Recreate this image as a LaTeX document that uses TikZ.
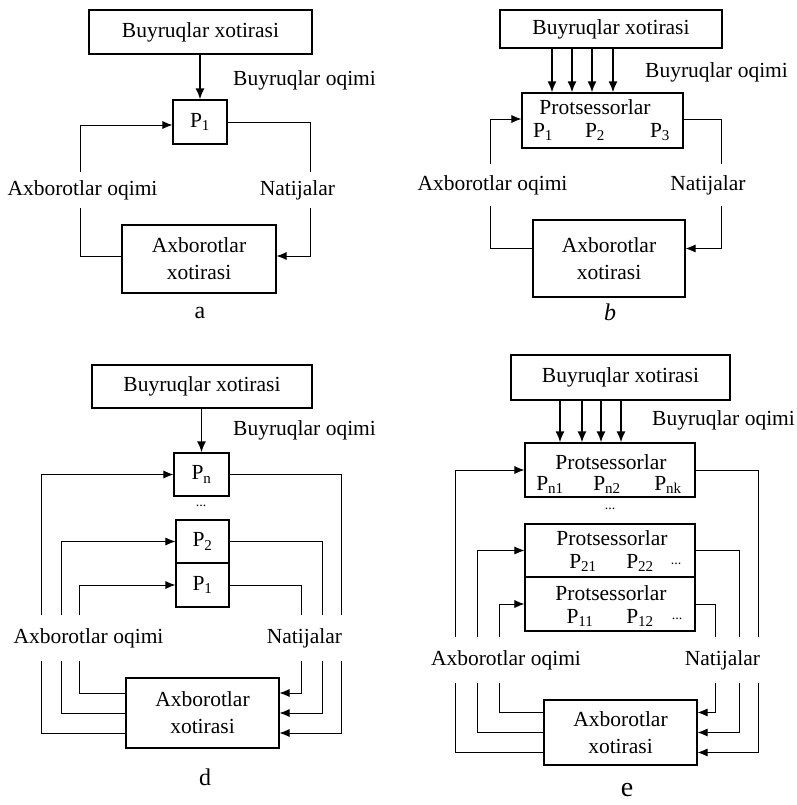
\documentclass[tikz,border=0pt]{standalone}
\usepackage{fontspec}
\setmainfont{Liberation Serif}
\usetikzlibrary{arrows.meta}
\tikzset{
  blok/.style={draw, line width=1.1pt, inner sep=0pt},
  oqim/.style={line width=1.9pt, -{Latex[length=11pt,width=9pt]}},
  aloqa/.style={line width=0.9pt},
  uchi/.style={-{Latex[length=10pt,width=8pt]}},
  uzilish/.style={inner xsep=0pt, inner ysep=#1},
  nuqta/.style={font=\fontsize{14}{14}\selectfont},
  harf/.style={font=\fontsize{24}{24}\selectfont}
}
\begin{document}
\begin{tikzpicture}[x=1pt, y=-1pt, font=\fontsize{21.5}{27}\selectfont, inner sep=0pt]
\useasboundingbox (0,0) rectangle (796,805);

% a
\node[blok, minimum width=223pt, minimum height=44pt] (bxa) at (200.5,32) {Buyruqlar xotirasi};
\node[blok, minimum width=54pt, minimum height=44pt] (pa) at (200,122) {P\textsubscript{1}};
\node[blok, minimum width=154pt, minimum height=68pt, align=center] (ma) at (199,259) {Axborotlar\\xotirasi};
\node[anchor=west] (boa) at (233,80) {Buyruqlar oqimi};
\node[uzilish=8.5pt] (aoa) at (82.5,190) {Axborotlar oqimi};
\node[uzilish=8.5pt] (na) at (297.5,190) {Natijalar};
\node[harf] (ha) at (200,313) {a};
\draw[oqim] (bxa.south -| pa.north) -- (pa.north);
\draw[aloqa] ([yshift=3pt]ma.west) -| (aoa.south -| 80,0);
\draw[aloqa, uchi] (aoa.north -| 80,0) |- ([yshift=-3pt]pa.west);
\draw[aloqa] (pa.east) -| (na.north -| 310,0);
\draw[aloqa, uchi] (na.south -| 310,0) |- ([yshift=3pt]ma.east);

% b
\node[blok, minimum width=222pt, minimum height=38pt] (bxb) at (611,29) {Buyruqlar xotirasi};
\node[blok, minimum width=161pt, minimum height=55pt] (prb) at (602.5,120.5) {};
\node (tprb) at (595,107) {Protsessorlar};
\node (pb1) at (543,132) {P\textsubscript{1}};
\node (pb2) at (595,132) {P\textsubscript{2}};
\node (pb3) at (660,132) {P\textsubscript{3}};
\node[blok, minimum width=152pt, minimum height=77pt, align=center] (mb) at (609,258.5) {Axborotlar\\xotirasi};
\node[anchor=west] (bob) at (645,72) {Buyruqlar oqimi};
\node[uzilish=11pt] (aob) at (492.5,185) {Axborotlar oqimi};
\node[uzilish=11pt] (nb) at (708,185) {Natijalar};
\node[font=\fontsize{24}{24}\selectfont\itshape] (hb) at (610,312) {b};
\foreach \x in {552,572,592,613}
  \draw[oqim] (bxb.south -| \x,0) -- (prb.north -| \x,0);
\draw[aloqa] ([yshift=10pt]mb.west) -| (aob.south -| 490,0);
\draw[aloqa, uchi] (aob.north -| 490,0) |- ([yshift=1.5pt]prb.west);
\draw[aloqa] ([yshift=1.5pt]prb.east) -| (nb.north -| 721,0);
\draw[aloqa, uchi] (nb.south -| 721,0) |- ([yshift=10pt]mb.east);

% d
\node[blok, minimum width=220pt, minimum height=43pt] (bxd) at (202,386.5) {Buyruqlar xotirasi};
\node[blok, minimum width=55pt, minimum height=43pt] (pnd) at (201.5,474.5) {P\textsubscript{n}};
\node[nuqta] (nd1) at (201,506) {...};
\node[blok, minimum width=53pt, minimum height=43pt] (p2d) at (202.5,541.5) {P\textsubscript{2}};
\node[blok, minimum width=53pt, minimum height=44pt] (p1d) at (202.5,585) {P\textsubscript{1}};
\node[blok, minimum width=153pt, minimum height=70pt, align=center] (md) at (202.5,713) {Axborotlar\\xotirasi};
\node[anchor=west] (bod) at (233,430) {Buyruqlar oqimi};
\node[uzilish=13pt] (aod) at (88.5,638) {Axborotlar oqimi};
\node[uzilish=13pt] (nd) at (304.5,638) {Natijalar};
\node[harf] (hd) at (205,777) {d};
\draw[oqim] (bxd.south -| pnd.north) -- (pnd.north);
\foreach \p/\xl/\xr/\s in {pnd/41/341/-20, p2d/61/322/0, p1d/79/301/20} {
  \draw[aloqa] ([yshift=\s pt]md.west) -| (aod.south -| \xl,0);
  \draw[aloqa, uchi] (aod.north -| \xl,0) |- (\p.west);
  \draw[aloqa] (\p.east) -| (nd.north -| \xr,0);
  \draw[aloqa, uchi] (nd.south -| \xr,0) |- ([yshift=\s pt]md.east);
}

% e
\node[blok, minimum width=219pt, minimum height=45pt] (bxe) at (620.5,377.5) {Buyruqlar xotirasi};
\node[blok, minimum width=170pt, minimum height=54pt] (pe3) at (610,470) {};
\node (tpe3) at (611,462) {Protsessorlar};
\node (pe31) at (550,485) {P\textsubscript{n1}};
\node (pe32) at (607,485) {P\textsubscript{n2}};
\node (pe3k) at (668,485) {P\textsubscript{nk}};
\node[nuqta] (ne1) at (610,509) {...};
\node[blok, minimum width=170pt, minimum height=53pt] (pe2) at (610,550.5) {};
\node (tpe2) at (612,538) {Protsessorlar};
\node (pe21) at (583,563) {P\textsubscript{21}};
\node (pe22) at (640,563) {P\textsubscript{22}};
\node[nuqta] (ne2) at (676,564) {...};
\node[blok, minimum width=170pt, minimum height=54pt] (pe1) at (610,604) {};
\node (tpe1) at (611,593) {Protsessorlar};
\node (pe11) at (580,618) {P\textsubscript{11}};
\node (pe12) at (640,618) {P\textsubscript{12}};
\node[nuqta] (ne3) at (677,619) {...};
\node[blok, minimum width=153pt, minimum height=65pt, align=center] (me) at (620.5,732.5) {Axborotlar\\xotirasi};
\node[anchor=west] (boe) at (652,420) {Buyruqlar oqimi};
\node[uzilish=13.5pt] (aoe) at (506,660) {Axborotlar oqimi};
\node[uzilish=13.5pt] (ne) at (722.5,660) {Natijalar};
\node[font=\fontsize{28}{28}\selectfont] (he) at (627,790) {e};
\foreach \x in {560,582,601,621}
  \draw[oqim] (bxe.south -| \x,0) -- (pe3.north -| \x,0);
\foreach \p/\xl/\xr/\s in {pe3/455/758/-20, pe2/477/739/0, pe1/499/715/20} {
  \draw[aloqa] ([yshift=\s pt]me.west) -| (aoe.south -| \xl,0);
  \draw[aloqa, uchi] (aoe.north -| \xl,0) |- (\p.west);
  \draw[aloqa] (\p.east) -| (ne.north -| \xr,0);
  \draw[aloqa, uchi] (ne.south -| \xr,0) |- ([yshift=\s pt]me.east);
}
\end{tikzpicture}
\end{document}
